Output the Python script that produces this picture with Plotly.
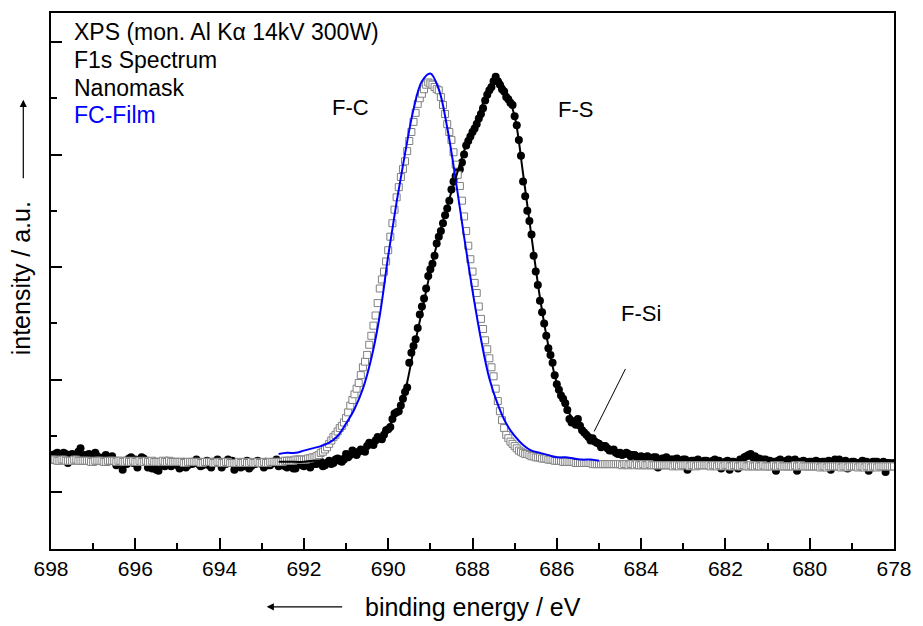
import numpy as np
import plotly.graph_objects as go

# ---------------- data (intensity in arbitrary units) ----------------
# FC-Film spectrum (grey open squares) on the 0.1 eV grid 698.0 -> 678.0
fc_film_y = [
    29,29,28,29,28,28,29,28,28,28, 27,28,28,27,28,28,28,27,28,27,
    27,28,27,27,28,27,27,27,28,27, 27,27,26,27,27,27,26,27,27,26,
    27,26,27,26,26,26,27,26,26,27, 26,26,27,27,27,
    27,28,28,29,29,29,30,31,32,35, 38,43,49,54,59,66,77,87,97,111,
    122,139,157,181,196,215,239,262,280,294, 312,329,345,354,362,363,360,357,344,327,
    313,291,272,245,219,196,177,154,135,119, 103,81,64,51,45,41,37,35,34,32,
    31,31,30,29,29,28,28,27,
    27,27,26,26,26,26,25,25,
    25,25,25,25,25,25,24,25,25,24, 24,25,24,24,24,24,24,24,23,24,
    24,24,23,24,24,24,24,23,24,24, 23,24,23,24,23,24,23,23,24,23,
    23,23,24,23,23,23,23,24,23,23, 23,23,23,22,23,23,23,23,22,23,
    23,23,22,23,23,22,23,23,23,23,
]
# FC-Film spectrum, intermediate points 697.95 -> 678.05
fc_film_half_y = [
    29,28,29,28,28,29,28,28,28,27, 28,28,27,28,28,27,28,27,27,28,
    27,27,28,27,27,27,28,27,27,27, 27,26,27,27,27,26,27,27,26,27,
    26,27,26,26,27,26,26,27,26,26, 27,26,27,27,
    27,28,28,28,29,29,29,30,31,33, 36,40,46,51,57,62,71,82,92,104,
    116,131,148,168,189,205,227,251,271,287, 303,320,337,350,358,364,362,358,351,336,
    320,302,282,259,232,207,186,165,145,127, 111,92,72,57,48,43,39,36,34,33,
    32,31,30,30,29,28,28,27,
    27,27,26,26,26,26,25,25,
    25,25,25,25,25,24,25,25,24,24, 25,24,24,24,24,24,24,23,24,24,
    24,23,24,24,24,24,23,24,24,23, 24,23,24,23,24,23,23,24,23,23,
    23,24,23,23,23,23,24,23,23,23, 23,23,22,23,23,23,23,22,23,23,
    23,22,23,23,22,23,23,23,23,23,
]

# Nanomask spectrum (black dots) on the 0.1 eV grid 698.0 -> 678.0
nanomask_y = [
    33,34,33,35,26,34,30,39,33,34, 30,32,28,33,30,27,26,20,25,31,
    29,27,30,22,21,20,26,23,25,27, 24,25,22,26,27,25,24,28,22,26,
    27,25,29,28,26,22,23,21,25,28, 25,27,24,26,23,25,22,24,21,26,
    23,25,27,25,27,24,28,26,30,27,
    34,33,35,36,37,41,43,46,48,51, 56,65,71,77,89,115,130,146,165,181,
    198,210,227,239,252,269,281,287,300,312, 320,327,336,348,357,365,365,358,351,346,
    334,313,276,250,229,196,170,150,128,115, 96,86,79,65,63,65,55,51,46,45,
    43,41,39,37,35,35,34,34,33,31, 32,
    31,30,31,22,30,31,29,29,28,29, 20,28,28,27,28,27,28,27,21,27,
    20,27,21,28,32,34,32,30,29,28, 27,19,29,27,29,28,19,27,27,27,
    26,27,27,26,20,29,29,27,21,27, 26,26,27,19,27,27,26,18,26,26,
]
# Nanomask spectrum, intermediate points 697.95 -> 678.05
nanomask_half_y = [
    32,35,31,34,33,29,36,32,31,33, 35,29,31,27,32,24,27,28,30,26,
    22,31,28,24,27,19,25,28,23,26, 21,27,24,25,29,23,26,24,27,29,
    22,25,27,20,24,26,28,23,25,27, 22,24,26,29,25,23,26,21,27,24,
    26,22,25,28,23,26,25,29,28,
    29,31,37,33,38,36,44,42,49,47,55,
    58,70,72,83,93,124,136,158,172,192,
    203,221,232,246,259,276,285,293,308,316,
    323,332,341,353,360,369,362,356,349,344,
    326,299,263,241,210,184,160,139,122,104,
    91,83,73,62,60,59,53,49,48,44,
    40,41,37,38,34,33,35,32,33,30,
    30,32,29,31,28,30,27,29,30,28, 29,27,28,29,26,28,27,29,28,26,
    28,27,26,29,31,33,31,30,28,29, 28,27,28,26,28,27,29,27,28,26,
    27,28,26,27,28,27,26,27,28,26, 27,26,28,27,26,27,25,27,26,25,
]

# FC-Film fit (blue line), 692.6 -> 685.0 eV step 0.2
fc_fit_y = [34,35,35,37,39,41,44,50,61,74,92,119,157,210,258,301,340,365,372,358,
            324,278,227,179,136,101,78,61,50,42,37,35,33,31,31,30,29,29,28]

# Nanomask envelope fit (black line), 692.6 -> 683.0 eV step 0.2
nm_fit_y = [27,27,27,27,28,28,29,31,33,35,38,42,49,58,70,90,126,161,196,227,
            254,279,303,323,341,358,368,356,334,283,227,173,130,97,77,64,55,48,42,39,
            36,35,33,32,31,30,30,29,29]

x_ticks = [698, 696, 694, 692, 690, 688, 686, 684, 682, 680, 678]

grid_x = np.round(698.0 - 0.1 * np.arange(len(nanomask_y)), 2)
half_x = np.round(697.95 - 0.1 * np.arange(len(nanomask_half_y)), 2)
spec_x = np.concatenate([grid_x, half_x])
nm_y = np.concatenate([nanomask_y, nanomask_half_y])
fc_xx = np.concatenate([np.round(698.0 - 0.1 * np.arange(len(fc_film_y)), 2),
                        np.round(697.95 - 0.1 * np.arange(len(fc_film_half_y)), 2)])
fc_yy = np.concatenate([fc_film_y, fc_film_half_y])
order_nm = np.argsort(-spec_x)
order_fc = np.argsort(-fc_xx)
fc_fit_x = np.round(692.6 - 0.2 * np.arange(len(fc_fit_y)), 2)
nm_fit_x = np.round(692.6 - 0.2 * np.arange(len(nm_fit_y)), 2)

FONT = "Liberation Sans, Arial, Helvetica, sans-serif"

fig = go.Figure()
fig.add_trace(go.Scatter(x=spec_x[order_nm], y=nm_y[order_nm], mode="markers",
                         marker=dict(symbol="circle", size=8, color="black"),
                         name="Nanomask"))
fig.add_trace(go.Scatter(x=fc_xx[order_fc], y=fc_yy[order_fc], mode="markers",
                         marker=dict(symbol="square", size=7, color="white",
                                     line=dict(color="#808080", width=1)),
                         name="FC-Film"))
fig.add_trace(go.Scatter(x=fc_fit_x, y=fc_fit_y, mode="lines", line_shape="spline",
                         line=dict(color="#0000ff", width=2), name="FC-Film fit"))
fig.add_trace(go.Scatter(x=nm_fit_x, y=nm_fit_y, mode="lines", line_shape="spline",
                         line=dict(color="black", width=2), name="Nanomask fit"))

fig.update_layout(
    width=923, height=626,
    margin=dict(l=51, r=20, t=11, b=77),
    paper_bgcolor="white", plot_bgcolor="white",
    showlegend=False,
    font=dict(family=FONT, size=21, color="black"),
)
fig.update_xaxes(
    range=[698, 678], tickmode="array", tickvals=x_ticks,
    ticktext=[str(v) for v in x_ticks],
    ticks="inside", ticklen=11, tickwidth=2, tickcolor="black",
    showline=True, linecolor="black", linewidth=2, mirror=True,
    showgrid=False, zeroline=False,
    tickfont=dict(family=FONT, size=21),
    ticklabeloverflow="allow",
    minor=dict(ticks="inside", ticklen=6, tickwidth=2, tickcolor="black", dtick=1, tick0=678, showgrid=False),
)
fig.update_yaxes(
    range=[-50.4, 425.7], tick0=0, dtick=100,
    ticks="inside", ticklen=11, tickwidth=2, tickcolor="black",
    showticklabels=False,
    showline=True, linecolor="black", linewidth=2, mirror=True,
    showgrid=False, zeroline=False,
    minor=dict(ticks="inside", ticklen=6, tickwidth=2, tickcolor="black", dtick=50, showgrid=False),
)

def px(xp):
    return (xp - 51) / 852.0

def py(yp):
    return (549 - yp) / 538.0

ann = []
info = [("XPS (mon. Al K\u03b1 14kV 300W)", 30, "black"),
        ("F1s Spectrum", 58, "black"),
        ("Nanomask", 86, "black"),
        ("FC-Film", 113, "#0000ff")]
for t, yy, c in info:
    ann.append(dict(text=t, xref="paper", yref="paper", x=px(72), y=py(yy),
                    xanchor="left", yanchor="middle", showarrow=False,
                    font=dict(family=FONT, size=23, color=c)))
for t, xx, yy in [("F-C", 354, 106), ("F-S", 581, 108), ("F-Si", 647, 313)]:
    ann.append(dict(text=t, xref="paper", yref="paper", x=px(xx), y=py(yy),
                    xanchor="center", yanchor="middle", showarrow=False,
                    font=dict(family=FONT, size=22, color="black")))
# axis titles
ann.append(dict(text="binding energy / eV", xref="paper", yref="paper",
                x=px(477), y=py(607), xanchor="center", yanchor="middle",
                showarrow=False, font=dict(family=FONT, size=25)))
ann.append(dict(text="intensity / a.u.", xref="paper", yref="paper",
                x=px(21), y=py(277), xanchor="center", yanchor="middle",
                textangle=-90, showarrow=False, font=dict(family=FONT, size=25)))
# arrows (ax/ay are pixel offsets of the tail from the head)
ann.append(dict(text="", xref="paper", yref="paper", x=px(269), y=py(607),
                ax=77, ay=0, showarrow=True, arrowhead=2, arrowsize=1.2,
                arrowwidth=1.2, arrowcolor="black"))
ann.append(dict(text="", xref="paper", yref="paper", x=px(23), y=py(98),
                ax=0, ay=80, showarrow=True, arrowhead=2, arrowsize=1.2,
                arrowwidth=1.2, arrowcolor="black"))
# F-Si pointer line
ann.append(dict(text="", xref="paper", yref="paper", x=px(600), y=py(431),
                ax=32, ay=-64, showarrow=True, arrowhead=0, arrowwidth=1,
                arrowcolor="black"))
fig.update_layout(annotations=ann)

fig.write_html(
    "out.html",
    config={"displayModeBar": False, "responsive": False},
    post_script=(
        "document.body.style.margin='0px';"
        "document.body.style.overflow='hidden';"
        "document.documentElement.style.overflow='hidden';"
    ),
)
